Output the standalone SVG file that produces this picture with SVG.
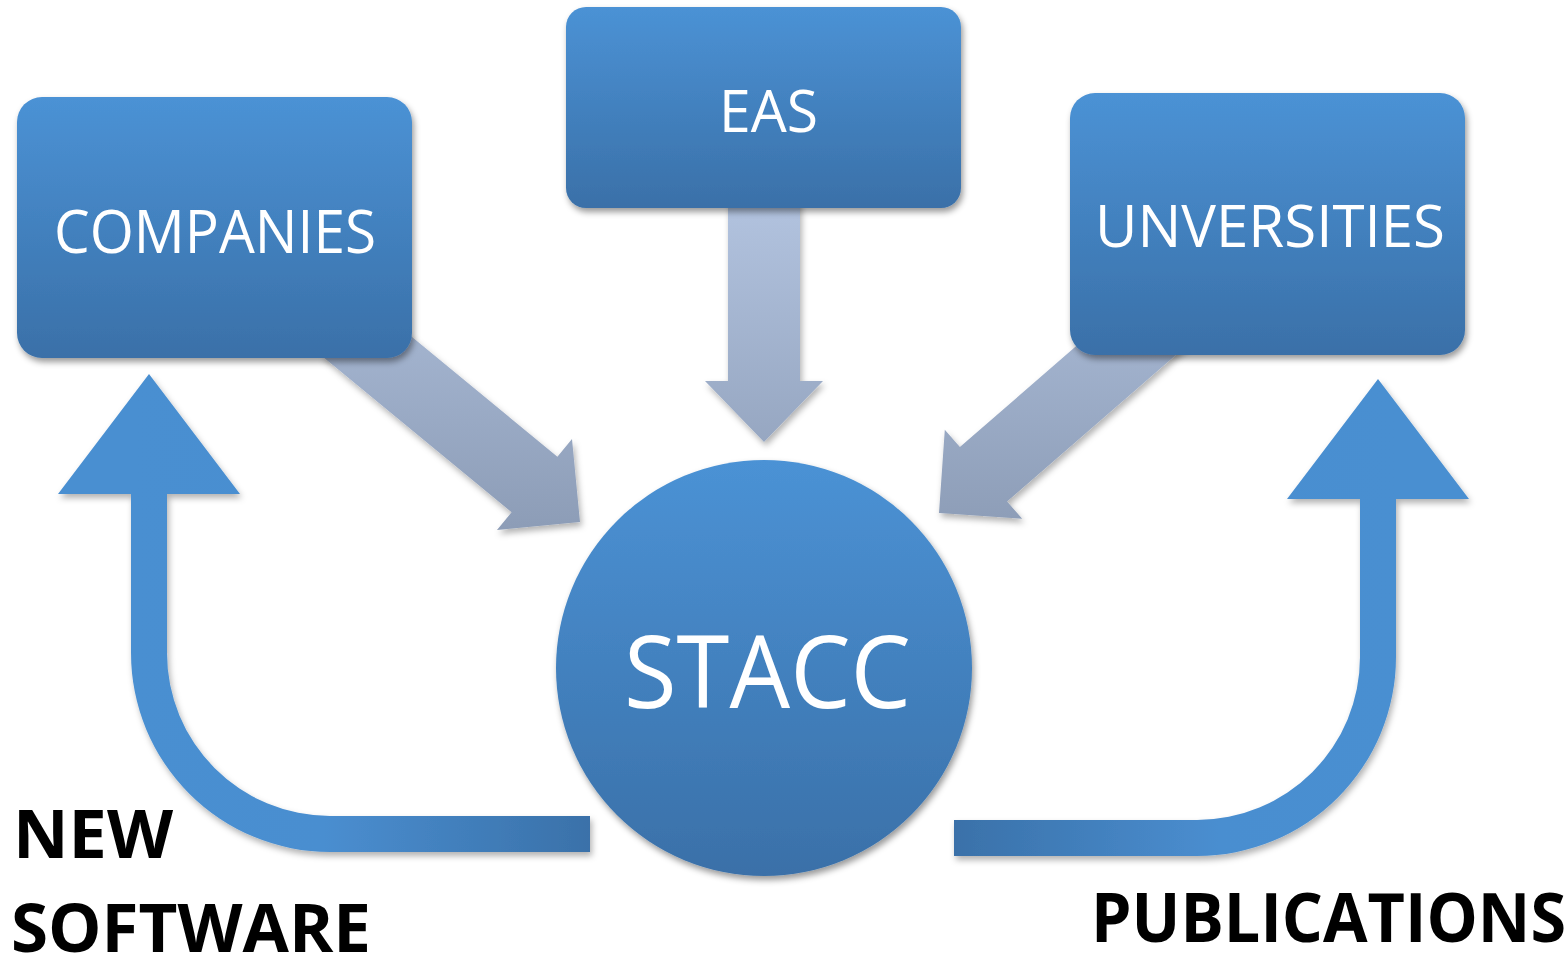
<svg xmlns="http://www.w3.org/2000/svg" width="1568" height="957" viewBox="0 0 1568 957">
  <defs>
    <linearGradient id="boxGrad" x1="0" y1="0" x2="0" y2="1">
      <stop offset="0" stop-color="#4b92d5"/>
      <stop offset="1" stop-color="#3a70a8"/>
    </linearGradient>
    <linearGradient id="grayGrad" gradientUnits="userSpaceOnUse" x1="0" y1="200" x2="0" y2="535">
      <stop offset="0" stop-color="#b2c3df"/>
      <stop offset="1" stop-color="#8c9cb6"/>
    </linearGradient>
    <linearGradient id="uLeft" gradientUnits="userSpaceOnUse" x1="131" y1="0" x2="590" y2="0">
      <stop offset="0" stop-color="#4a8fd1"/>
      <stop offset="0.42" stop-color="#4a8ed0"/>
      <stop offset="1" stop-color="#3a71a9"/>
    </linearGradient>
    <linearGradient id="uRight" gradientUnits="userSpaceOnUse" x1="954" y1="0" x2="1396" y2="0">
      <stop offset="0" stop-color="#3a71a9"/>
      <stop offset="0.6" stop-color="#4a8ed0"/>
      <stop offset="1" stop-color="#4a8fd1"/>
    </linearGradient>
    <filter id="shadow" x="-10%" y="-10%" width="125%" height="130%">
      <feDropShadow dx="2" dy="4" stdDeviation="3" flood-color="#000" flood-opacity="0.4"/>
    </filter>
    <filter id="shadowSoft" x="-10%" y="-10%" width="125%" height="130%">
      <feDropShadow dx="2" dy="4" stdDeviation="3" flood-color="#000" flood-opacity="0.3"/>
    </filter>
  </defs>
  <style>
    .box { fill: url(#boxGrad); filter: url(#shadow); }
    .lbl { fill: #ffffff; font-family: "Open Sans", "Noto Sans", sans-serif; }
    .big { fill: #000000; font-family: "Open Sans", "Noto Sans", sans-serif; font-weight: bold; }
    .gray { fill: url(#grayGrad); filter: url(#shadowSoft); }
  </style>
  <rect width="1568" height="957" fill="#ffffff"/>

  <g id="connectors">
    <path class="gray" d="M764 442 L705 381 L728 381 L728 180 L800 180 L800 381 L823 381 Z"/>
    <path class="gray" d="M580 522 L572 439 L557.4 456.7 L367.4 300.2 L321.6 355.8 L511.6 512.3 L497 530 Z"/>
    <path class="gray" d="M939 513 L944.8 429.8 L959.9 447.1 L1141.9 289 L1189.1 343.4 L1007.1 501.5 L1022.2 518.8 Z"/>
    <path fill="url(#uLeft)" filter="url(#shadowSoft)" d="M149 374 L240 494 L167 494 L167 653 A163 163 0 0 0 330 816 L590 816 L590 852 L330 852 A199 199 0 0 1 131 653 L131 494 L58 494 Z"/>
    <path fill="url(#uRight)" filter="url(#shadowSoft)" d="M1378 379 L1469 499 L1396 499 L1396 657 A199 199 0 0 1 1197 856 L954 856 L954 820 L1197 820 A163 163 0 0 0 1360 657 L1360 499 L1287 499 Z"/>
  </g>

  <g id="companies">
    <rect class="box" x="17" y="97" width="395" height="261" rx="25"/>
    <text class="lbl" x="54" y="253" font-size="60" textLength="322" lengthAdjust="spacingAndGlyphs">COMPANIES</text>
  </g>
  <g id="eas">
    <rect class="box" x="566" y="7" width="395" height="201" rx="20"/>
    <text class="lbl" x="719" y="132" font-size="59" textLength="99" lengthAdjust="spacingAndGlyphs">EAS</text>
  </g>
  <g id="universities">
    <rect class="box" x="1070" y="93" width="395" height="262" rx="25"/>
    <text class="lbl" x="1095" y="247" font-size="58" textLength="350" lengthAdjust="spacingAndGlyphs">UNVERSITIES</text>
  </g>
  <g id="stacc">
    <circle class="box" cx="764" cy="668" r="208"/>
    <text class="lbl" x="624" y="708" font-size="100" textLength="287" lengthAdjust="spacingAndGlyphs">STACC</text>
  </g>
  <g id="new-software">
    <text class="big" x="13" y="858" font-size="66" textLength="160" lengthAdjust="spacingAndGlyphs">NEW</text>
    <text class="big" x="11" y="952" font-size="66" textLength="360" lengthAdjust="spacingAndGlyphs">SOFTWARE</text>
  </g>
  <g id="publications">
    <text class="big" x="1091" y="942" font-size="68" textLength="475" lengthAdjust="spacingAndGlyphs">PUBLICATIONS</text>
  </g>
</svg>
